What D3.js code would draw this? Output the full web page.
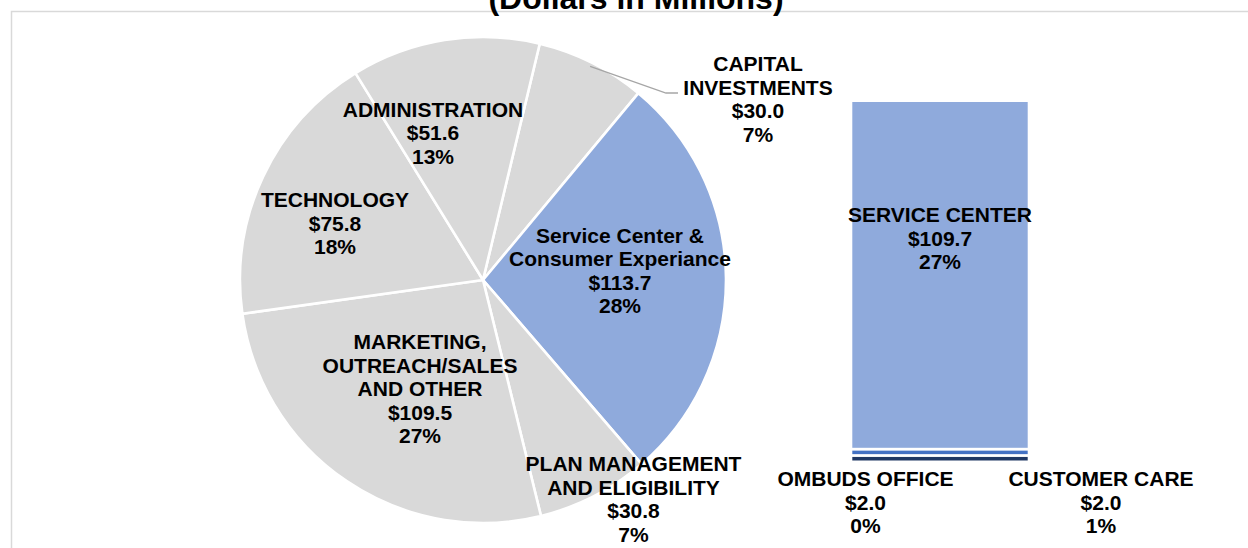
<!DOCTYPE html>
<html>
<head>
<meta charset="utf-8">
<script src="https://cdn.jsdelivr.net/npm/d3@7/dist/d3.min.js"></script>
<style>
html,body{margin:0;padding:0;background:#fff;}
svg{display:block;}
text{font-family:Arial,"Liberation Sans",sans-serif;font-weight:bold;fill:#000;}
</style>
</head>
<body>
<svg id="chart" width="1248" height="548"></svg>
<script>
// ---- data ----
const title = "(Dollars in Millions)";
const pieCategories = ["CAPITAL INVESTMENTS", "Service Center & Consumer Experiance", "PLAN MANAGEMENT AND ELIGIBILITY", "MARKETING, OUTREACH/SALES AND OTHER", "TECHNOLOGY", "ADMINISTRATION"];
const pieValues = [30.0, 113.7, 30.8, 109.5, 75.8, 51.6];
const piePercents = ["7%", "28%", "7%", "27%", "18%", "13%"];
const barCategories = ["OMBUDS OFFICE", "CUSTOMER CARE", "SERVICE CENTER"];
const barValues = [2.0, 2.0, 109.7];
const barPercents = ["0%", "1%", "27%"];

// ---- styling / layout (not data) ----
const pieColors = ["#d9d9d9", "#8faadc", "#d9d9d9", "#d9d9d9", "#d9d9d9", "#d9d9d9"];
const barColors = ["#203864", "#4472c4", "#8faadc"];
const pieLabelLines = [
  ["CAPITAL", "INVESTMENTS"],
  ["Service Center &", "Consumer Experiance"],
  ["PLAN MANAGEMENT", "AND ELIGIBILITY"],
  ["MARKETING,", "OUTREACH/SALES", "AND OTHER"],
  ["TECHNOLOGY"],
  ["ADMINISTRATION"]
];
const pieLabelPos = [[758, 71], [620, 242.5], [633.5, 471], [420, 349], [335, 207], [433, 116.7]];
const barLabelPos = [[865.5, 486], [1101, 486], [940, 222]];
const lineH = 23.6;

const svg = d3.select("#chart");

// frame
svg.append("path").attr("d", "M11.5,548 V11.5 H1248")
  .attr("fill", "none").attr("stroke", "#d9d9d9").attr("stroke-width", 1.5);

// title
svg.append("text").attr("x", 636).attr("y", 9).attr("text-anchor", "middle")
  .style("font-size", "32px").text(title);

// ---- pie ----
const cx = 483, cy = 280, r = 243;
const start = 13.5 * Math.PI / 180;
const pie = d3.pie().sort(null).value(d => d).startAngle(start).endAngle(start + 2 * Math.PI);
const arcs = pie(pieValues);
const arc = d3.arc().innerRadius(0).outerRadius(r);
const g = svg.append("g").attr("transform", `translate(${cx},${cy})`);
g.selectAll("path").data(arcs).join("path")
  .attr("d", arc)
  .attr("fill", (d, i) => pieColors[i])
  .attr("stroke", "#fff").attr("stroke-width", 2.6).attr("stroke-linejoin", "round");

// leader line for capital investments
const a0 = (arcs[0].startAngle + arcs[0].endAngle) / 2;
const px = cx + Math.sin(a0) * (r - 4), py = cy - Math.cos(a0) * (r - 4);
svg.append("polyline")
  .attr("points", `${px},${py} 666,93 678,93`)
  .attr("fill", "none").attr("stroke", "#a6a6a6").attr("stroke-width", 1.3);

// pie labels
const fmt = v => "$" + d3.format(".1f")(v);
pieCategories.forEach((c, i) => {
  const lines = pieLabelLines[i].concat([fmt(pieValues[i]), piePercents[i]]);
  const t = svg.append("text").attr("text-anchor", "middle").style("font-size", "21px");
  lines.forEach((ln, k) => {
    t.append("tspan").attr("x", pieLabelPos[i][0]).attr("y", pieLabelPos[i][1] + k * lineH).text(ln);
  });
});

// ---- stacked bar ----
const y = d3.scaleLinear().domain([0, d3.sum(barValues)]).range([461.8, 100.7]);
const x = d3.scaleBand().domain(["bar"]).range([851, 1029]).padding(0);
let cum = 0;
const stack = barValues.map(v => { const s = { y0: cum, y1: cum + v }; cum += v; return s; });
svg.append("g").selectAll("rect").data(stack).join("rect")
  .attr("x", x("bar")).attr("width", x.bandwidth())
  .attr("y", d => y(d.y1)).attr("height", d => y(d.y0) - y(d.y1))
  .attr("fill", (d, i) => barColors[i])
  .attr("stroke", "#fff").attr("stroke-width", 2.6);

barCategories.forEach((c, i) => {
  const lines = [c, fmt(barValues[i]), barPercents[i]];
  const t = svg.append("text").attr("text-anchor", "middle").style("font-size", "21px");
  lines.forEach((ln, k) => {
    t.append("tspan").attr("x", barLabelPos[i][0]).attr("y", barLabelPos[i][1] + k * lineH).text(ln);
  });
});
</script>
</body>
</html>
